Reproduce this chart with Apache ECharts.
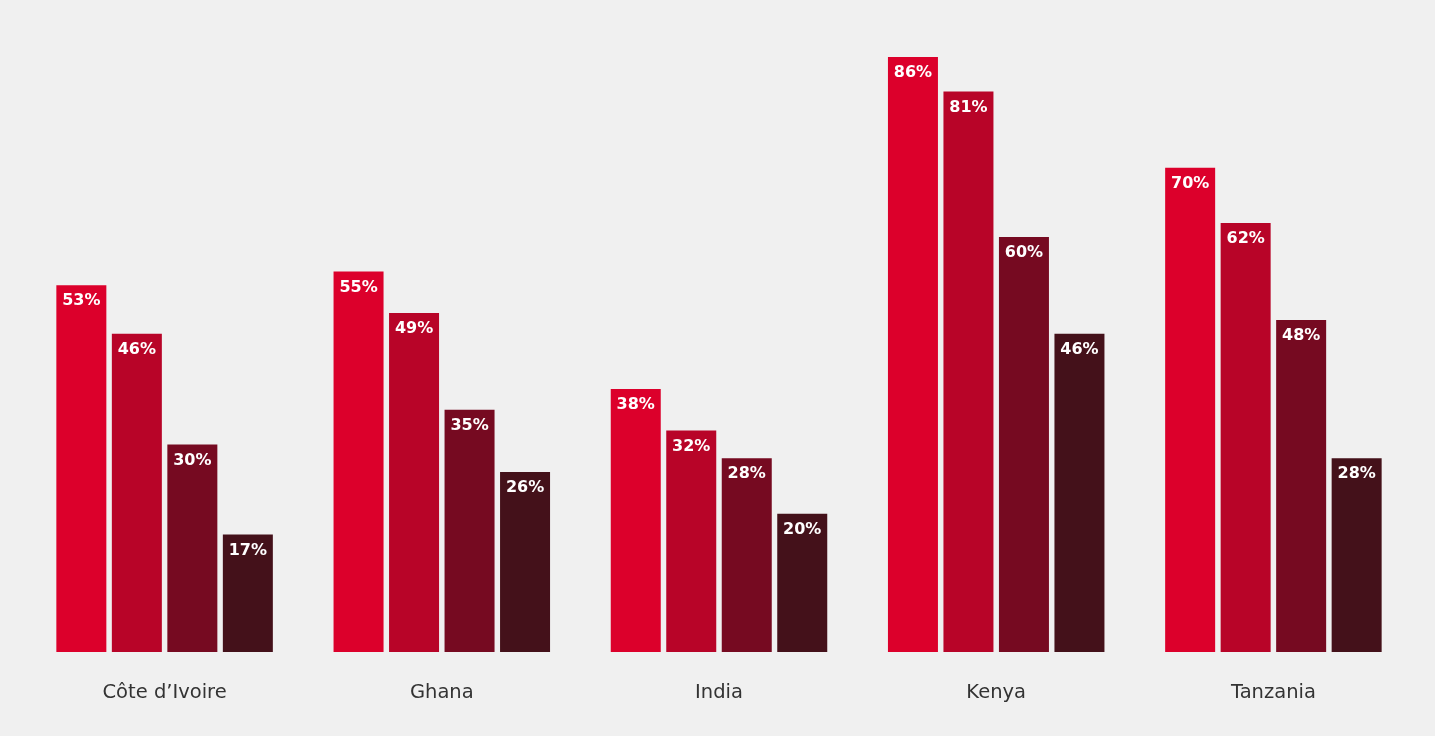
<!DOCTYPE html>
<html>
<head>
<meta charset="utf-8">
<script src="https://cdn.jsdelivr.net/npm/echarts@6/dist/echarts.min.js"></script>
<style>
  html, body { margin: 0; padding: 0; background: #f0f0f0; }
  #chart { width: 1435px; height: 736px; }
</style>
</head>
<body>
<div id="chart"></div>
<script>
// Countries along the x axis
const countries = ["Côte d’Ivoire", "Ghana", "India", "Kenya", "Tanzania"];

// Four series per country, in percent
const seriesA = [53, 55, 38, 86, 70];
const seriesB = [46, 49, 32, 81, 62];
const seriesC = [30, 35, 28, 60, 48];
const seriesD = [17, 26, 20, 46, 28];

const colors = ["#dc002b", "#b80428", "#760a21", "#44111a"];

const chart = echarts.init(document.getElementById('chart'));

function bar(name, data, color) {
  return {
    name: name,
    type: 'bar',
    data: data,
    barWidth: 50,
    barGap: '11%',
    itemStyle: { color: color },
    label: {
      show: true,
      position: 'insideTop',
      distance: 8,
      color: '#ffffff',
      fontFamily: 'DejaVu Sans',
      fontWeight: 'bold',
      fontSize: 16,
      formatter: '{c}%'
    }
  };
}

chart.setOption({
  backgroundColor: '#f0f0f0',
  animation: false,
  grid: { left: 26, right: 23, top: 57, bottom: 84 },
  xAxis: {
    type: 'category',
    data: countries,
    axisLine: { show: false },
    axisTick: { show: false },
    axisLabel: {
      margin: 31,
      color: '#333333',
      fontFamily: 'DejaVu Sans',
      fontSize: 19.5
    }
  },
  yAxis: {
    type: 'value',
    min: 0,
    max: 86,
    show: false,
    splitLine: { show: false }
  },
  series: [
    bar('A', seriesA, colors[0]),
    bar('B', seriesB, colors[1]),
    bar('C', seriesC, colors[2]),
    bar('D', seriesD, colors[3])
  ]
});
</script>
</body>
</html>
